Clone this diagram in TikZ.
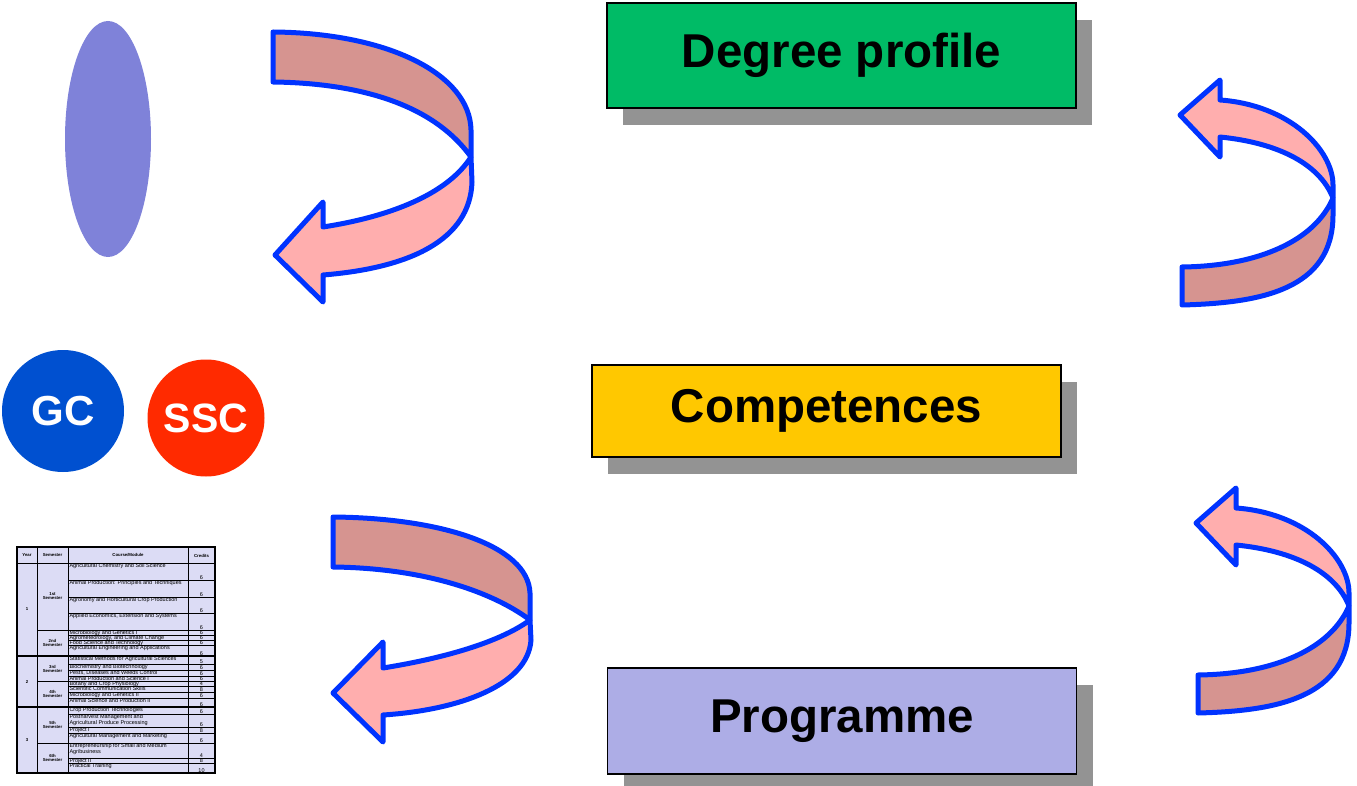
\documentclass[tikz,border=0pt]{standalone}
\usepackage{fontspec}
\setmainfont{Liberation Sans}
\usetikzlibrary{positioning,shapes.geometric,shadows}

\definecolor{degreegreen}{HTML}{00BB66}
\definecolor{compyellow}{HTML}{FFC800}
\definecolor{proglav}{HTML}{ADADE6}
\definecolor{shadowgray}{HTML}{939393}
\definecolor{ovalblue}{HTML}{7F82D9}
\definecolor{gcblue}{HTML}{0050D0}
\definecolor{sscred}{HTML}{FF2A00}
\definecolor{bandlight}{HTML}{FFAEAE}
\definecolor{banddark}{HTML}{D69490}
\definecolor{bandline}{HTML}{0033FF}
\definecolor{tablefill}{HTML}{DCDCF5}

\tikzset{
  bigbox/.style={draw=black, line width=1.5pt, minimum width=469pt, inner sep=0pt,
    font=\fontsize{47.5}{50}\selectfont\bfseries,
    drop shadow={shadow xshift=16pt, shadow yshift=-17pt, fill=shadowgray, opacity=1}},
  badge/.style={circle, text=white, inner sep=0pt},
  bandfront/.style={fill=bandlight, draw=bandline, line width=5pt, line join=round},
  bandback/.style={fill=banddark, draw=bandline, line width=5pt, line join=round},
  course/.style={anchor=north west, inner sep=0.3pt, align=left,
    font=\fontsize{5.5}{6}\selectfont},
  credit/.style={anchor=south, inner sep=0.4pt, font=\fontsize{5.5}{6}\selectfont},
  headcell/.style={inner sep=0pt, align=center, font=\fontsize{4.3}{4.9}\selectfont\bfseries},
  rule/.style={line width=0.8pt}
}

\begin{document}
\begin{tikzpicture}[x=1pt,y=-1pt]
  \useasboundingbox (0,0) rectangle (1357,786);

  \node[ellipse, fill=ovalblue, minimum width=86pt, minimum height=236pt, inner sep=0pt] (oval) at (108,139) {};
  \node[badge, fill=gcblue, minimum size=122pt, font=\fontsize{42}{44}\selectfont\bfseries] (gc) at (63,411) {GC};
  \node[badge, fill=sscred, minimum size=117pt, font=\fontsize{41}{43}\selectfont\bfseries] (ssc) at (206,418) {SSC};

  \node[bigbox, fill=degreegreen, minimum height=105pt] (degree) at (841.5,55.5) {Degree profile};
  \node[bigbox, fill=compyellow, minimum height=92pt] (comp) at (826.5,411) {Competences};
  \node[bigbox, fill=proglav, minimum height=106pt] (prog) at (842,721) {Programme};

  % curved arrows, left side
  \filldraw[bandback] (273,32) .. controls (390,33) and (470,75) .. (471,130) -- (471,157)
    .. controls (430,100) and (350,83) .. (273,82) -- cycle;
  \filldraw[bandfront] (471,157) -- (472,182) .. controls (470,240) and (410,268) .. (323,275)
    -- (323,302) -- (275,255) -- (323,202) -- (323,227) .. controls (400,215) and (450,190) .. (471,157);

  \filldraw[bandback] (333,517) .. controls (440,518) and (528,545) .. (530,593) -- (530,620)
    .. controls (490,590) and (420,568) .. (333,567) -- cycle;
  \filldraw[bandfront] (530,620) -- (531,640) .. controls (528,685) and (460,710) .. (383,715)
    -- (383,742) -- (333,693) -- (383,642) -- (383,668) .. controls (445,658) and (500,642) .. (530,620);

  % curved arrows, right side
  \foreach \dx/\dy in {0/0, 16/408} {
    \begin{scope}[shift={(\dx,\dy)}]
      \filldraw[bandback] (1182,267) .. controls (1260,266) and (1315,240) .. (1333,198) -- (1333,215)
        .. controls (1333,290) and (1260,303) .. (1182,305) -- cycle;
      \filldraw[bandfront] (1333,198) -- (1333,185) .. controls (1333,150) and (1290,105) .. (1220,100)
        -- (1220,80) -- (1180,115) -- (1220,157) -- (1220,137) .. controls (1280,143) and (1320,165) .. (1333,198);
    \end{scope}
  }

  % study plan table
  \fill[tablefill] (17,547) rectangle (215,773);
  \node[headcell] (hyear) at (27,555) {Year};
  \node[headcell] (hsem) at (52.5,555) {Semester};
  \node[headcell] (hcourse) at (128,555) {Course/Module};
  \node[headcell] (hcred) at (201.5,556) {Credits};
  \foreach \yc/\lbl in {609.5/1, 681.5/2, 740/3}
    \node[headcell] (year\lbl) at (27,\yc) {\lbl};
  \foreach \yc/\lbl [count=\j] in {596/1st, 643/2nd, 669/3rd, 694/4th, 725/5th, 758/6th}
    \node[headcell] (sem\j) at (52.5,\yc) {\lbl\\Semester};
  \foreach \ytop/\ybot/\course/\cred [count=\i] in {
      563/580/Agricultural Chemistry and Soil Science/6,
      580/597/Animal Production: Principles and Techniques/6,
      597/613/Agronomy and Horticultural Crop Production/6,
      613/630/{Applied Economics, Extension and Systems}/6,
      630/635/Microbiology and Genetics I/6,
      635/640/{Agrometeorology, and Climate Change}/6,
      640/645/Food Science and Technology/6,
      645/656/Agricultural Engineering and Applications/6,
      656/664/Statistical Methods for Agricultural Sciences/5,
      664/670/Biochemistry and Biotechnology/6,
      670/676/{Pests, Diseases and Weeds Control}/6,
      676/681/Animal Production and Science I/6,
      681/686/Botany and Crop Physiology/4,
      686/692/Scientific Communication Skills/8,
      692/698/Microbiology and Genetics II/6,
      698/707/Animal Science and Production II/6,
      707/714/Crop Production Technologies/6,
      714/727/Postharvest Management and\\Agricultural Produce Processing/6,
      727/733/Project I/8,
      733/743/Agricultural Management and Marketing/6,
      743/758/Entrepreneurship for Small and Medium\\Agribusiness/4,
      758/763/Project II/8,
      763/773/Practical Training/10} {
    \draw[rule] (68,\ybot) -- (215,\ybot);
    \node[course] (row\i) at (69,\ytop) {\course};
    \node[credit] (cr\i) at (201.5,\ybot) {\cred};
  }
  \draw[rule] (37,547) -- (37,773) (68,547) -- (68,773) (188,547) -- (188,773);
  \draw[rule] (17,563) -- (215,563) (37,630) -- (215,630) (37,681) -- (215,681) (37,743) -- (215,743);
  \draw[line width=1.2pt] (17,656) -- (215,656) (17,707) -- (215,707);
  \draw[line width=1.5pt] (17,547) rectangle (215,773);
\end{tikzpicture}
\end{document}
